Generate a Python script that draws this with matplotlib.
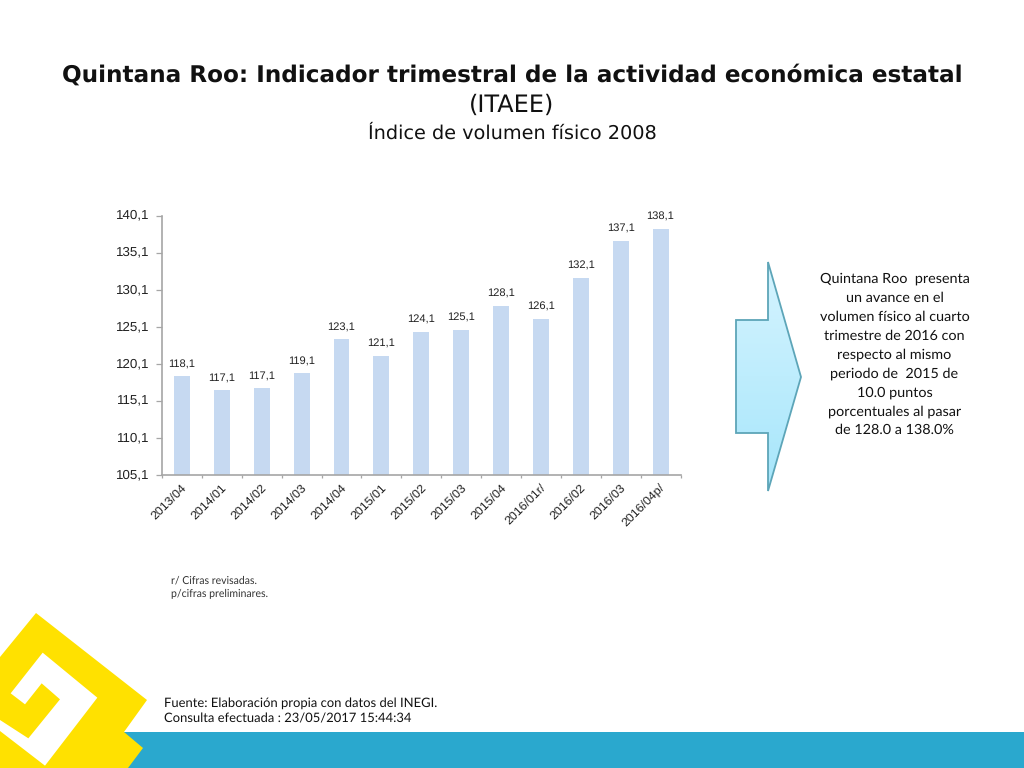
import numpy as np
import matplotlib
matplotlib.use("Agg")
import matplotlib.pyplot as plt
from matplotlib.patches import Polygon, Rectangle
from matplotlib.colors import LinearSegmentedColormap
from matplotlib.transforms import ScaledTranslation

plt.rcParams["text.hinting"] = "none"

categories = ["2013/04", "2014/01", "2014/02", "2014/03", "2014/04", "2015/01", "2015/02",
              "2015/03", "2015/04", "2016/01r/", "2016/02", "2016/03", "2016/04p/"]
values = [118.4, 116.6, 116.9, 118.8, 123.4, 121.2, 124.4, 124.7, 127.9, 126.2, 131.7, 136.7, 138.3]
value_labels = ["118,1", "117,1", "117,1", "119,1", "123,1", "121,1", "124,1",
                "125,1", "128,1", "126,1", "132,1", "137,1", "138,1"]
y_ticks = [105.1, 110.1, 115.1, 120.1, 125.1, 130.1, 135.1, 140.1]
y_tick_labels = ["105,1", "110,1", "115,1", "120,1", "125,1", "130,1", "135,1", "140,1"]

W, H = 1024, 768
fig = plt.figure(figsize=(W / 100, H / 100), dpi=100, facecolor="white")

# full-slide overlay in pixel coordinates
bg = fig.add_axes([0, 0, 1, 1], zorder=0)
bg.set_xlim(0, W)
bg.set_ylim(H, 0)
bg.axis("off")

yellow = "#FFE100"
bg.add_patch(Rectangle((120, 732), 904, 36, fc="#2AA8CE", ec="none", zorder=1))
bg.add_patch(Polygon([(0, 657), (36, 613), (147, 700), (124, 732), (143, 748), (128, 768), (0, 768)],
                     closed=True, fc=yellow, ec="none", zorder=2))
zoom_spiral = [(128, 143), (292, 278), (135, 482), (0, 378), (0, 345), (85, 400),
               (180, 283), (125, 235), (75, 298), (32, 265)]
bg.add_patch(Polygon([(a / 3, b / 3 + 605) for a, b in zoom_spiral],
                     closed=True, fc="white", ec="none", zorder=3))

# callout arrow with gradient fill
arrow_pts = [(768, 262), (801, 377), (768, 491), (768, 433), (736, 433), (736, 320), (768, 320)]
grad = np.linspace(0, 1, 256).reshape(-1, 1)
cmap = LinearSegmentedColormap.from_list("a", ["#D6F4FF", "#A6E6FB"])
im = bg.imshow(grad, extent=(736, 801, 491, 262), cmap=cmap, aspect="auto", zorder=5)
clip = Polygon(arrow_pts, closed=True, transform=bg.transData, fc="none", ec="none")
bg.add_patch(clip)
im.set_clip_path(clip)
bg.add_patch(Polygon(arrow_pts, closed=True, fc="none", ec="#5DA5B8", lw=1.3, zorder=6))
bg.set_xlim(0, W)
bg.set_ylim(H, 0)

# chart
x0, x1, ytop, ybot = 162, 680.5, 215.5, 475
ax = fig.add_axes([x0 / W, 1 - ybot / H, (x1 - x0) / W, (ybot - ytop) / H], zorder=2)
ax.patch.set_alpha(0)
xs = np.arange(len(categories))
ax.bar(xs, np.array(values) - y_ticks[0], bottom=y_ticks[0], width=0.4, color="#C6D9F1", edgecolor="none")
ax.set_xlim(-0.5, len(categories) - 0.5)
ax.set_ylim(y_ticks[0], y_ticks[-1])
for sp in ("top", "right"):
    ax.spines[sp].set_visible(False)
for sp in ("left", "bottom"):
    ax.spines[sp].set_color("#A6A6A6")
    ax.spines[sp].set_linewidth(1.2)
ax.set_yticks(y_ticks)
ax.set_yticklabels(y_tick_labels, fontsize=9.6, family="Liberation Sans", color="#222222")
ax.set_xticks(np.arange(len(categories) + 1) - 0.5, minor=False)
ax.set_xticklabels([""] * (len(categories) + 1))
ax.tick_params(axis="x", direction="out", length=2.2, width=0.9, color="#A6A6A6")
ax.tick_params(axis="y", direction="out", length=4, width=0.9, color="#A6A6A6", pad=5)
up = ScaledTranslation(0, 1.5 / 100, fig.dpi_scale_trans)
for lab in ax.get_yticklabels():
    lab.set_transform(lab.get_transform() + up)
for x, v, lab, cat in zip(xs, values, value_labels, categories):
    ax.annotate(lab, (x, v), xytext=(0, 4.9), textcoords="offset points", ha="center", va="bottom",
                fontsize=8, family="Liberation Sans", color="#222222")
    ax.annotate(cat, (x, y_ticks[0]), xytext=(-0.5, -5), textcoords="offset points", ha="right", va="top",
                rotation=45, rotation_mode="anchor", fontsize=8.9,
                family="Liberation Sans", color="#222222", annotation_clip=False)

# texts
def t(x, y, s, **kw):
    kw.setdefault("color", "#111111")
    kw.setdefault("va", "center")
    bg.text(x, y, s, zorder=10, **kw)

t(512, 75, "Quintana Roo: Indicador trimestral de la actividad económica estatal",
  ha="center", fontsize=16.7, family="DejaVu Sans", fontweight="bold", color="#111111")
t(512, 105.5, "(ITAEE)", ha="center", fontsize=17.3, family="DejaVu Sans")
t(512, 133, "Índice de volumen físico 2008", ha="center", fontsize=13.9, family="DejaVu Sans")

side = ["Quintana Roo  presenta", "un avance en el", "volumen físico al cuarto", "trimestre de 2016 con",
        "respecto al mismo", "periodo de  2015 de", "10.0 puntos", "porcentuales al pasar", "de 128.0 a 138.0%"]
for i, line in enumerate(side):
    t(894.5, 279 + i * 18.9, line, ha="center", fontsize=10.35, family="Lato")

t(171, 580, "r/ Cifras revisadas.", fontsize=7.6, family="Lato", color="#333333")
t(171, 594, "p/cifras preliminares.", fontsize=7.6, family="Lato", color="#333333")
t(164, 703.5, "Fuente: Elaboración propia con datos del INEGI.", fontsize=9.4, family="Lato")
t(164, 719, "Consulta efectuada : 23/05/2017 15:44:34", fontsize=9.4, family="Lato")

fig.savefig("out.png", dpi=100)
